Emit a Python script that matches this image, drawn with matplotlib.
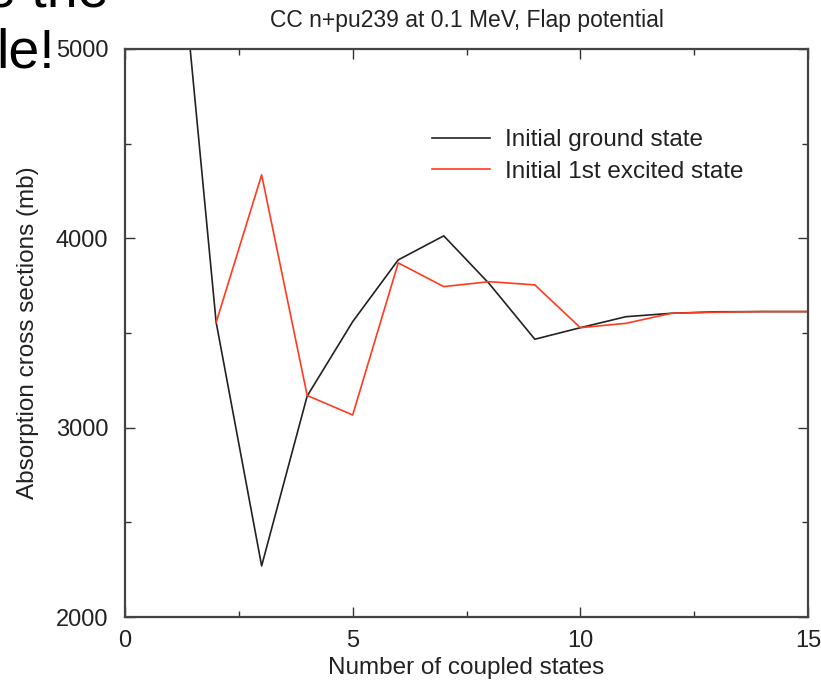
import numpy as np
import matplotlib.pyplot as plt
from matplotlib.ticker import MultipleLocator

plt.rcParams['font.family'] = ['Liberation Sans', 'DejaVu Sans']

# 数据：耦合态数目与吸收截面 (mb)
n_ground = [1, 2, 3, 4, 5, 6, 7, 8, 9, 10, 11, 12, 13, 14, 15]
sigma_ground = [6090, 3558, 2270, 3167, 3560, 3886, 4013, 3760, 3467, 3528, 3586, 3604, 3612, 3613, 3613]

n_excited = [2, 3, 4, 5, 6, 7, 8, 9, 10, 11, 12, 13, 14, 15]
sigma_excited = [3555, 4335, 3170, 3067, 3870, 3745, 3771, 3754, 3528, 3551, 3604, 3610, 3613, 3613]

fig = plt.figure(figsize=(8.21, 6.82), dpi=100)
ax = fig.add_axes([0.1523, 0.0953, 0.8319, 0.8329])

ax.plot(n_ground, sigma_ground, color='#222222', lw=1.2, label='Initial ground state')
ax.plot(n_excited, sigma_excited, color='#ff3b1f', lw=1.2, label='Initial 1st excited state')

ax.set_xlim(0, 15)
ax.set_ylim(2000, 5000)
ax.xaxis.set_major_locator(MultipleLocator(5))
ax.xaxis.set_minor_locator(MultipleLocator(2.5))
ax.yaxis.set_major_locator(MultipleLocator(1000))
ax.yaxis.set_minor_locator(MultipleLocator(500))
ax.tick_params(which='both', direction='in', top=True, right=True, labelsize=17,
               width=1, color='#333333', labelcolor='#222222')
ax.tick_params(which='major', length=7)
ax.tick_params(which='minor', length=4)
ax.tick_params(axis='x', pad=9)
ax.tick_params(axis='y', pad=12)
for s in ax.spines.values():
    s.set_linewidth(1.6)
    s.set_color('#444444')

ax.set_xlabel('Number of coupled states', fontsize=17.5, labelpad=4, color='#222222')
ax.set_ylabel('Absorption cross sections (mb)', fontsize=17.5, labelpad=12, color='#222222')
ax.set_title('CC n+pu239 at 0.1 MeV, Flap potential', fontsize=16.5, pad=16, color='#222222')

leg = ax.legend(loc='upper left', bbox_to_anchor=(0.449, 0.859), frameon=False, fontsize=17.5,
                handlelength=2.4, handletextpad=0.6, labelspacing=0.4,
                borderpad=0, borderaxespad=0)
for t in leg.get_texts():
    t.set_color('#222222')

# 幻灯片残留文字
fig.text(-0.018, 0.99, 'e the', fontsize=40, ha='left', va='baseline')
fig.text(-0.005, 0.9003, 'le!', fontsize=40, ha='left', va='baseline')

fig.savefig('out.png', dpi=100)
